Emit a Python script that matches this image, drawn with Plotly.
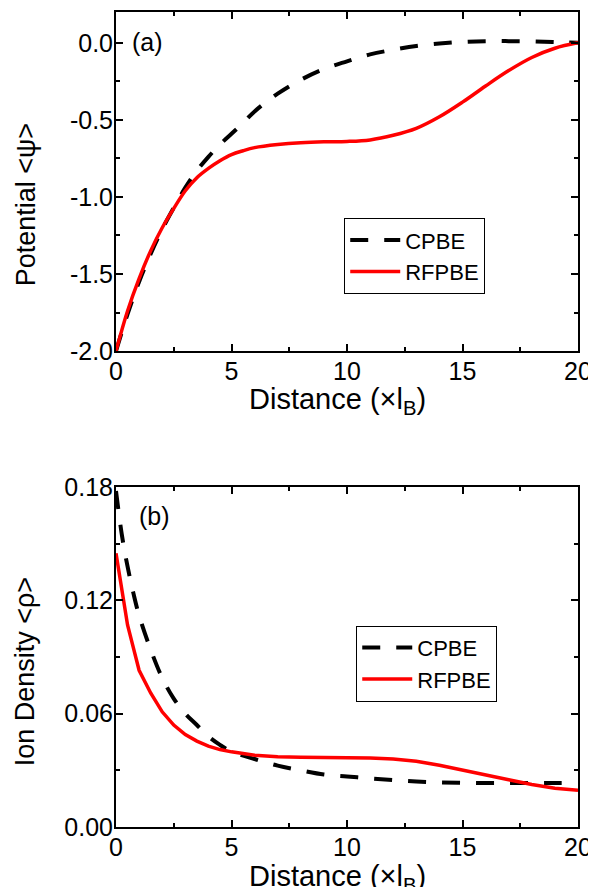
import plotly.graph_objects as go

# ---- data: panel (a) potential ----
x_a = [0, 0.5, 1, 1.5, 2, 2.5, 3, 3.5, 4, 4.5, 5, 5.5, 6, 7, 8, 9, 10, 11, 12, 13, 14, 15, 16, 17, 18, 19, 20]
cpbe_a = [-2.0, -1.76, -1.55, -1.37, -1.21, -1.07, -0.94, -0.83, -0.74, -0.66, -0.59, -0.52, -0.445,
          -0.33, -0.24, -0.17, -0.12, -0.075, -0.045, -0.02, -0.005, 0.006, 0.011, 0.011, 0.009, 0.005, 0.0]
rfpbe_a = [-2.0, -1.74, -1.53, -1.35, -1.20, -1.075, -0.96, -0.875, -0.815, -0.765, -0.725, -0.70, -0.68,
           -0.66, -0.648, -0.642, -0.64, -0.63, -0.60, -0.555, -0.48, -0.385, -0.28, -0.18, -0.095, -0.035, 0.0]

# ---- data: panel (b) ion density ----
x_b = [0, 0.25, 0.5, 0.75, 1, 1.5, 2, 2.5, 3, 3.5, 4, 4.5, 5, 6, 7, 8, 9, 10, 11, 12, 13, 14, 15, 16, 17, 18, 19, 20]
cpbe_b = [0.178, 0.155, 0.138, 0.124, 0.112, 0.094, 0.079, 0.068, 0.060, 0.054, 0.048, 0.0435, 0.040, 0.036,
          0.0325, 0.030, 0.0278, 0.0268, 0.0257, 0.0248, 0.0241, 0.0236, 0.0234, 0.0233, 0.0233, 0.0233, 0.0233, 0.0233]
rfpbe_b = [0.145, 0.126, 0.107, 0.095, 0.083, 0.071, 0.061, 0.054, 0.049, 0.0455, 0.0428, 0.041, 0.0398, 0.038,
           0.0372, 0.0369, 0.0368, 0.0368, 0.0366, 0.036, 0.0348, 0.0327, 0.030, 0.0275, 0.025, 0.0225, 0.0205, 0.0195]

x_ticks = [0, 5, 10, 15, 20]
ya_ticks = [0.0, -0.5, -1.0, -1.5, -2.0]
ya_text = ["0.0", "-0.5", "-1.0", "-1.5", "-2.0"]
yb_ticks = [0.0, 0.06, 0.12, 0.18]
yb_text = ["0.00", "0.06", "0.12", "0.18"]

FONT = "Arial, Liberation Sans, sans-serif"
BLACK_DASH = dict(color="black", width=4, dash="18px,16px")
RED = dict(color="#ff0000", width=3.5)

fig = go.Figure()
fig.add_trace(go.Scatter(x=x_a, y=cpbe_a, mode="lines", name="CPBE", line=BLACK_DASH,
                         line_shape="spline", xaxis="x", yaxis="y", legend="legend"))
fig.add_trace(go.Scatter(x=x_a, y=rfpbe_a, mode="lines", name="RFPBE", line=RED,
                         line_shape="spline", xaxis="x", yaxis="y", legend="legend"))
fig.add_trace(go.Scatter(x=x_b, y=cpbe_b, mode="lines", name="CPBE", line=BLACK_DASH,
                         line_shape="spline", xaxis="x2", yaxis="y2", legend="legend2"))
fig.add_trace(go.Scatter(x=x_b, y=rfpbe_b, mode="lines", name="RFPBE", line=RED,
                         xaxis="x2", yaxis="y2", legend="legend2"))

axis_common = dict(showline=True, linecolor="black", linewidth=2, mirror="ticks",
                   ticks="inside", ticklen=7, tickwidth=2, tickcolor="black",
                   showgrid=False, zeroline=False, automargin=False, ticklabeloverflow="allow",
                   tickfont=dict(family=FONT, size=25, color="black"))
minor_x = dict(ticks="inside", ticklen=4, tickwidth=2, tickcolor="black", dtick=2.5, showgrid=False)

xt_font = dict(family=FONT, size=29, color="black")
yt_font = dict(family=FONT, size=27, color="black")

# page body has an 8px default margin; figure is offset by 8px
fig.update_layout(
    width=588, height=879,
    margin=dict(l=108, r=18, t=4, b=60, autoexpand=False),
    paper_bgcolor="white", plot_bgcolor="white",
    font=dict(family=FONT, color="black"),
    xaxis=dict(domain=[0, 1], anchor="y", range=[0, 20], tickvals=x_ticks, minor=minor_x,
               ticklabelstandoff=-3, **axis_common),
    yaxis=dict(domain=[0.584, 1.0], anchor="x", range=[-2.0, 0.2], tickvals=ya_ticks, ticktext=ya_text,
               minor=dict(ticks="inside", ticklen=4, tickwidth=2, tickcolor="black", dtick=0.25, showgrid=False),
               ticklabelstandoff=-4, **axis_common),
    xaxis2=dict(domain=[0, 1], anchor="y2", range=[0, 20], tickvals=x_ticks, minor=minor_x,
                ticklabelstandoff=-3, **axis_common),
    yaxis2=dict(domain=[0.0, 0.417], anchor="x2", range=[0, 0.18], tickvals=yb_ticks, ticktext=yb_text,
                minor=dict(ticks="inside", ticklen=4, tickwidth=2, tickcolor="black", dtick=0.03, showgrid=False),
                ticklabelstandoff=-4, **axis_common),
    legend=dict(x=0.494, y=0.747, xanchor="left", yanchor="top", bgcolor="white",
                bordercolor="black", borderwidth=1, font=dict(family=FONT, size=22, color="black"),
                tracegroupgap=0, itemwidth=50),
    legend2=dict(x=0.52, y=0.247, xanchor="left", yanchor="top", bgcolor="white",
                 bordercolor="black", borderwidth=1, font=dict(family=FONT, size=22, color="black"),
                 tracegroupgap=0, itemwidth=50),
    showlegend=True,
    annotations=[
        dict(text="(a)", x=0.03, y=0.963, xref="paper", yref="paper", xanchor="left", yanchor="middle",
             showarrow=False, font=dict(family=FONT, size=25, color="black")),
        dict(text="(b)", x=0.045, y=0.381, xref="paper", yref="paper", xanchor="left", yanchor="middle",
             showarrow=False, font=dict(family=FONT, size=25, color="black")),
        dict(text="Distance (×l<sub>B</sub>)", x=0.4805, y=0.547, xref="paper", yref="paper",
             xanchor="center", yanchor="top", showarrow=False, font=xt_font),
        dict(text="Distance (×l<sub>B</sub>)", x=0.4805, y=-0.038, xref="paper", yref="paper",
             xanchor="center", yanchor="top", showarrow=False, font=xt_font),
        dict(text="Potential &lt;ψ&gt;", x=-0.195, y=0.764, xref="paper", yref="paper", textangle=-90,
             xanchor="center", yanchor="middle", showarrow=False, font=yt_font),
        dict(text="Ion Density &lt;ρ&gt;", x=-0.197, y=0.191, xref="paper", yref="paper", textangle=-90,
             xanchor="center", yanchor="middle", showarrow=False, font=yt_font),
    ],
)

fig.write_html("out.html")
